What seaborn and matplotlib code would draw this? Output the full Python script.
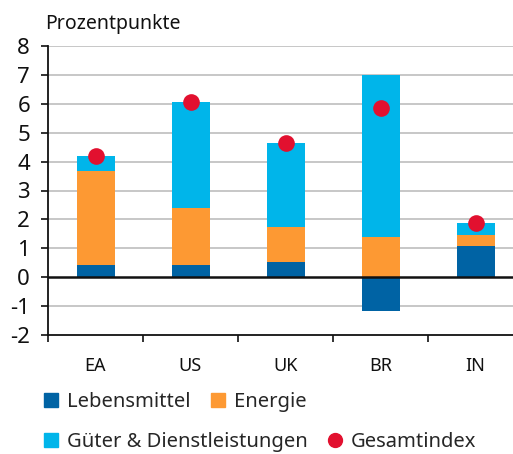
"""
Beitraege zur Inflation nach Komponenten (Prozentpunkte)
"""

import numpy as np
import pandas as pd
import matplotlib
matplotlib.use('Agg')
import matplotlib.pyplot as plt
from matplotlib.lines import Line2D
from matplotlib.ticker import FixedLocator
import seaborn as sns

# Daten
laender = ['EA', 'US', 'UK', 'BR', 'IN']
lebensmittel = [0.43, 0.43, 0.53, -1.17, 1.08]
energie = [3.24, 1.98, 1.20, 1.38, 0.37]
gueter_dienste = [0.51, 3.66, 2.93, 5.63, 0.41]
gesamtindex = [4.20, 6.07, 4.66, 5.84, 1.88]
y_ticks = [-2, -1, 0, 1, 2, 3, 4, 5, 6, 7, 8]

# Farben
c_food = '#0063A4'
c_energy = '#FD9933'
c_goods = '#00B5EA'
c_total = '#E2102F'

sns.set_style('white')
plt.rcParams['font.family'] = ['Noto Sans', 'DejaVu Sans']

df = pd.DataFrame({
    'land': laender,
    'food': lebensmittel,
    'energy': energie,
    'goods': gueter_dienste,
    'total': gesamtindex,
})
# positive Teile stapeln, negative Teile von null nach unten
df['bot_energy'] = df['food'].clip(lower=0)
df['bot_goods'] = df['bot_energy'] + df['energy']

fig = plt.figure(figsize=(5.13, 4.54), dpi=100)
ax = fig.add_axes([48 / 513, 1 - 335 / 454, 475 / 513, 289 / 454])

ax.set_axisbelow(True)
for yv in y_ticks:
    if yv not in (0, -2):
        ax.axhline(yv, color='#BDBDBD', lw=1.2, zorder=0)

bar_kw = dict(x='land', width=0.4, saturation=1, linewidth=0,
              edgecolor='none', ax=ax, zorder=2)
sns.barplot(data=df, y='food', color=c_food, **bar_kw)
sns.barplot(data=df, y='energy', color=c_energy, bottom=df['bot_energy'], **bar_kw)
sns.barplot(data=df, y='goods', color=c_goods, bottom=df['bot_goods'], **bar_kw)
sns.stripplot(data=df, x='land', y='total', jitter=False, color=c_total,
              size=12, linewidth=0, ax=ax, zorder=4)

ax.axhline(0, color='#111111', lw=1.8, zorder=3)

ax.set_xlim(-0.5, 4.5)
ax.set_ylim(-2, 8)
ax.set_yticks(y_ticks)
ax.set_yticklabels([str(v) for v in y_ticks])
ax.set_xlabel('')
ax.set_ylabel('')

for side in ['top', 'right']:
    ax.spines[side].set_visible(False)
for side in ['left', 'bottom']:
    ax.spines[side].set_color('#111111')
    ax.spines[side].set_linewidth(1.3)

ax.tick_params(axis='y', which='major', left=True, length=5, width=1.2,
               color='#111111', pad=8, labelsize=16, labelcolor='#111111')
ax.tick_params(axis='x', which='major', bottom=False, length=0, pad=16,
               labelsize=13, labelcolor='#111111')
ax.xaxis.set_minor_locator(FixedLocator([-0.5, 0.5, 1.5, 2.5, 3.5]))
ax.tick_params(axis='x', which='minor', bottom=True, length=5, width=1.2,
               color='#111111')

fig.text(45 / 513, 1 - 29 / 454, 'Prozentpunkte', fontsize=14,
         color='#111111', va='baseline', ha='left')

# Legende in zwei Zeilen
h1 = [Line2D([], [], marker='s', ls='', color=c_food, markersize=10),
      Line2D([], [], marker='s', ls='', color=c_energy, markersize=10)]
h2 = [Line2D([], [], marker='s', ls='', color=c_goods, markersize=10),
      Line2D([], [], marker='o', ls='', color=c_total, markersize=10)]
leg_kw = dict(ncol=2, frameon=False, fontsize=14.5, handlelength=0.7,
              handletextpad=0.45, columnspacing=1.0, borderpad=0,
              borderaxespad=0, loc='center left')
leg1 = fig.legend(h1, ['Lebensmittel', 'Energie'],
                  bbox_to_anchor=(44 / 513, 1 - 402 / 454), **leg_kw)
leg2 = fig.legend(h2, ['Güter & Dienstleistungen', 'Gesamtindex'],
                  bbox_to_anchor=(44 / 513, 1 - 442 / 454), **leg_kw)

fig.savefig('out.png', dpi=100)
